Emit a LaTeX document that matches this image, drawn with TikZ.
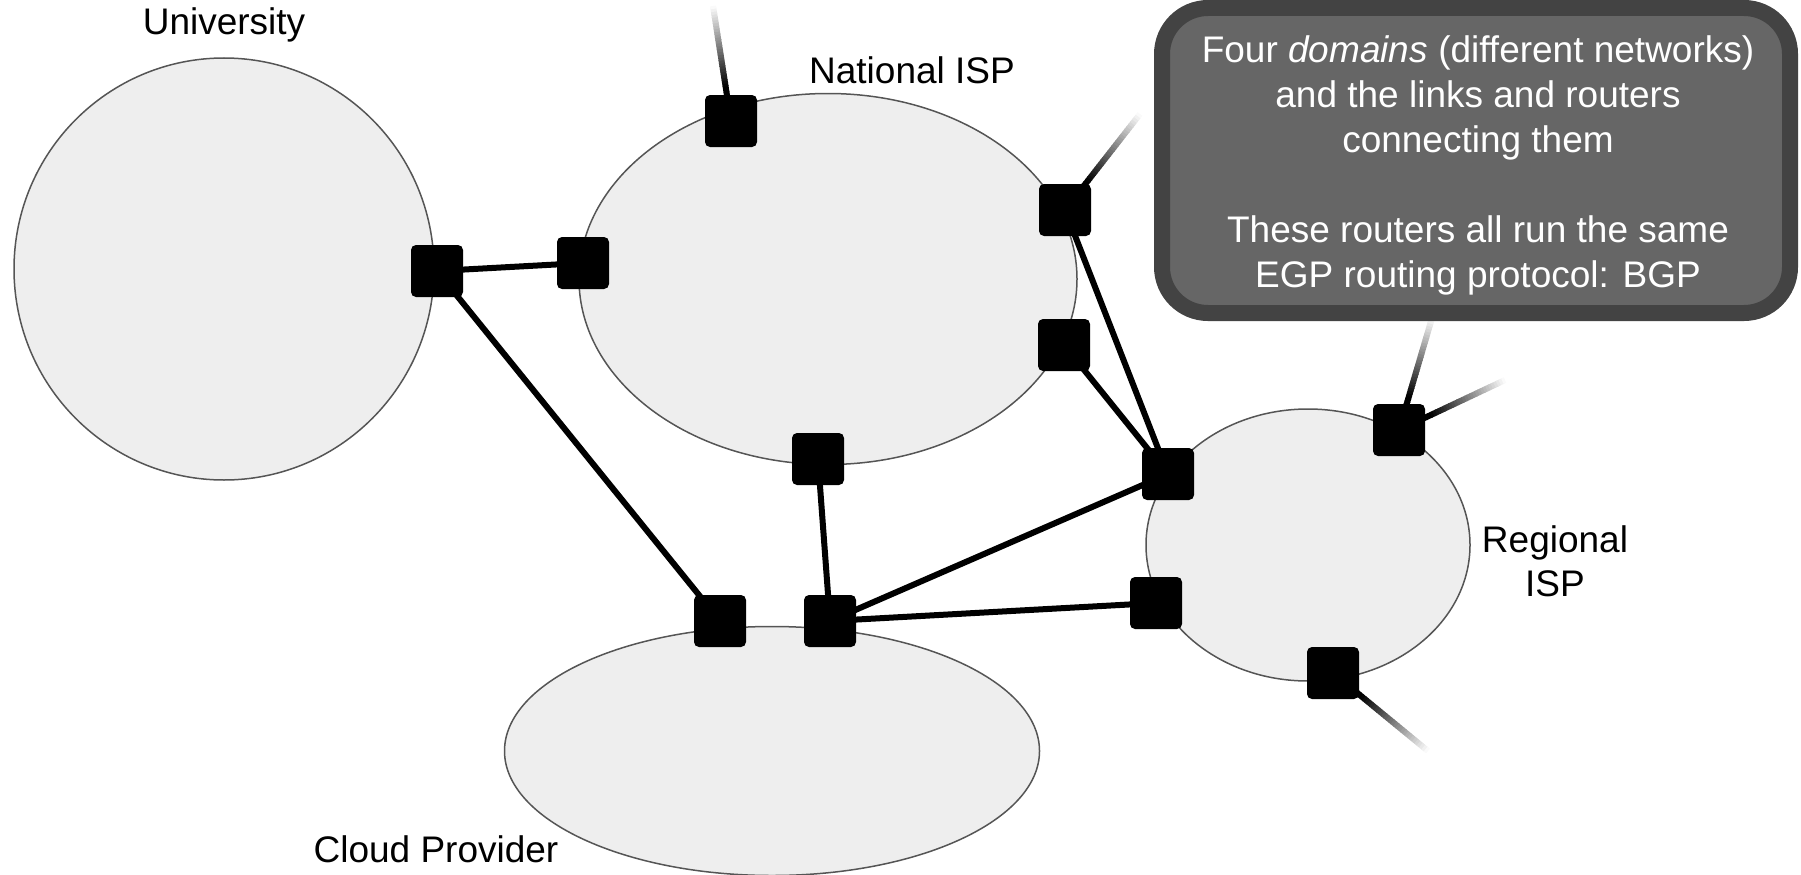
\documentclass[tikz,border=0pt]{standalone}
\usepackage{fontspec}
\setmainfont{Liberation Sans}
\usetikzlibrary{shapes.geometric,calc}
\pgfdeclarelayer{back}
\pgfdeclarelayer{links}
\pgfsetlayers{back,links,main}

\definecolor{areafill}{HTML}{EEEEEE}
\definecolor{areaedge}{HTML}{555555}
\definecolor{noteedge}{HTML}{434343}
\definecolor{notefill}{HTML}{666666}

\begin{document}
\begin{tikzpicture}[x=1pt,y=-1pt,
  netarea/.style={ellipse, draw=areaedge, line width=1.5pt, fill=areafill, inner sep=0pt},
  router/.style={fill=black, rounded corners=5pt, minimum size=52pt, inner sep=0pt},
  link/.style={line width=6pt},
  lbl/.style={font=\fontsize{37}{43.6}\selectfont, align=center, inner sep=0pt},
  note/.style={draw=noteedge, line width=16pt, fill=notefill, rounded corners=46pt,
    minimum width=628pt, minimum height=305pt, inner sep=0pt},
  notetext/.style={text=white, align=center, inner sep=0pt,
    font=\fontsize{37}{45}\selectfont},
]
\useasboundingbox (0,0) rectangle (1801,875);

% domains
\begin{pgfonlayer}{back}
\node[netarea, minimum width=420pt, minimum height=422pt] (uni) at (224,269) {};
\node[netarea, minimum width=498pt, minimum height=371pt] (nat) at (828,279) {};
\node[netarea, minimum width=324pt, minimum height=272pt] (reg) at (1308,545) {};
\node[netarea, minimum width=535pt, minimum height=249pt] (cloud) at (772,751) {};
\end{pgfonlayer}

% domain names
\node[lbl] (tuni) at (224,25) {University};
\node[lbl] (tnat) at (912,70) {National ISP};
\node[lbl] (treg) at (1555,561) {Regional\\ISP};
\node[lbl] (tcloud) at (436,849) {Cloud Provider};

% border routers
\node[router] (r1) at (437,271) {};
\node[router] (r2) at (583,263) {};
\node[router] (r3) at (731,121) {};
\node[router] (r4) at (1065,210) {};
\node[router] (r5) at (1064,345) {};
\node[router] (r6) at (818,459) {};
\node[router] (r7) at (1168,474) {};
\node[router] (r8) at (1399,430) {};
\node[router] (r9) at (1156,603) {};
\node[router] (r10) at (1333,673) {};
\node[router] (r11) at (720,621) {};
\node[router] (r12) at (830,621) {};

% loose ends of links leaving the picture
\coordinate (s3) at (713,6);
\coordinate (s4) at (1140,114);
\coordinate (s8a) at (1432,318);
\coordinate (s8b) at (1505,380);
\coordinate (s10) at (1428,751);

\begin{pgfonlayer}{links}
\foreach \a/\b in {r1/r2, r1/r11, r4/r7, r5/r7, r6/r12, r12/r7, r12/r9}
  \draw[link] (\a.center) -- (\b.center);
\foreach \s/\e in {r3/s3, r4/s4, r8/s8a, r8/s8b, r10/s10}
  \foreach \i in {0,...,39} {
    \pgfmathsetmacro\ta{\i/40}
    \pgfmathsetmacro\tb{min(1,(\i+1.3)/40)}
    \pgfmathsetmacro\pct{min(100,100*(1-(\i+0.5)/40)/0.7)}
    \draw[line width=6pt, color=black!\pct!white]
      ($(\s.center)!\ta!(\e)$) -- ($(\s.center)!\tb!(\e)$);
  }
\end{pgfonlayer}

% explanation box
\node[note] (box) at (1476,160.5) {};
\node[notetext] (boxtext) at ($(box.center)+(2,5)$) {Four \textit{domains} (different networks)\\
  and the links and routers\\ connecting them\\[45pt]
  These routers all run the same\\ EGP routing protocol: BGP};
\end{tikzpicture}
\end{document}
